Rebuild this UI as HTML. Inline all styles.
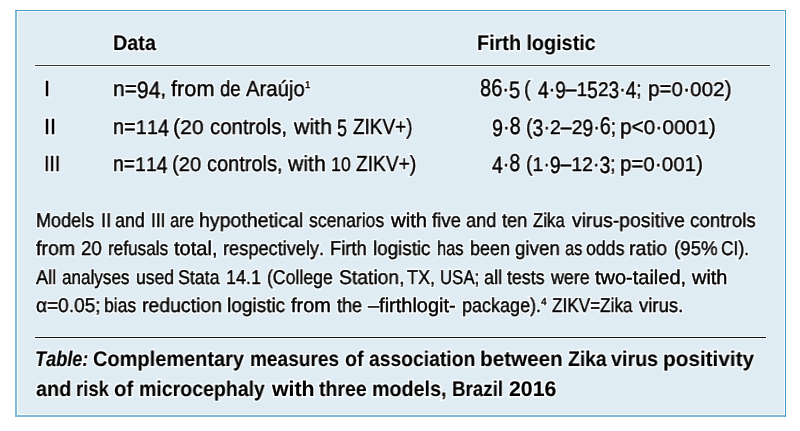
<!DOCTYPE html>
<html><head><meta charset="utf-8"><title>Table</title><style>
html,body{margin:0;padding:0;background:#fff;width:800px;height:431px;overflow:hidden;}
body{position:relative;font-family:"Liberation Sans",sans-serif;color:#000;font-kerning:none;}
.t{position:absolute;white-space:pre;transform-origin:0 0;will-change:transform;text-rendering:geometricPrecision;text-shadow:none;}
.bx{position:absolute;}
.dd,.du,.dz{display:inline-block;}
.dd{transform:translateY(2.3px) scaleY(1.08);transform-origin:50% 18.45px;}
.du{transform:scaleY(1.12);transform-origin:50% 18.45px;}
.dz{transform:scaleY(0.9);transform-origin:50% 18.45px;}
</style></head><body>
<div class="bx" style="left:15px;top:10px;width:771px;height:407px;background:#7fbbd7;"></div>
<div class="bx" style="left:17px;top:10px;width:768px;height:405px;background:#fff;"></div>
<div class="bx" style="left:15px;top:10px;width:771px;height:1px;background:#4a9cc6;"></div>
<div class="bx" style="left:785px;top:10px;width:1px;height:407px;background:#4a9cc6;"></div>
<div class="bx" style="left:18px;top:12px;width:766px;height:402px;background:#dfecf3;"></div>
<div class="bx" style="left:34px;top:64px;width:737px;height:3px;background:#f4fafc;"></div>
<div class="bx" style="left:35px;top:65px;width:735px;height:1px;background:#333;"></div>
<div class="bx" style="left:34px;top:336px;width:733px;height:3px;background:#f4fafc;"></div>
<div class="bx" style="left:35px;top:337px;width:731px;height:1px;background:#111;"></div>
<div class="t" style="color:transparent;-webkit-text-stroke:3.2px rgba(255,255,255,0.85);left:112.98px;top:33.05px;font-size:21.2px;line-height:21.2px;font-weight:bold;font-style:normal;transform:scaleX(0.9333);">Data</div>
<div class="t" style="color:transparent;-webkit-text-stroke:3.2px rgba(255,255,255,0.85);left:476.93px;top:33.05px;font-size:21.2px;line-height:21.2px;font-weight:bold;font-style:normal;transform:scaleX(0.9338);">Firth logistic</div>
<div class="t" style="color:transparent;-webkit-text-stroke:3.2px rgba(255,255,255,0.85);left:43.95px;top:77.55px;font-size:21.8px;line-height:21.8px;font-weight:normal;font-style:normal;transform:scaleX(1.0000);">I</div>
<div class="t" style="color:transparent;-webkit-text-stroke:3.2px rgba(255,255,255,0.85);left:43.62px;top:115.55px;font-size:21.8px;line-height:21.8px;font-weight:normal;font-style:normal;transform:scaleX(1.0000);">II</div>
<div class="t" style="color:transparent;-webkit-text-stroke:3.2px rgba(255,255,255,0.85);left:44.40px;top:152.55px;font-size:21.8px;line-height:21.8px;font-weight:normal;font-style:normal;transform:scaleX(0.9000);">III</div>
<div class="t" style="color:transparent;-webkit-text-stroke:3.2px rgba(255,255,255,0.85);left:112.51px;top:77.55px;font-size:21.8px;line-height:21.8px;font-weight:normal;font-style:normal;transform:scaleX(0.9662);">n=<span class="dd">9</span><span class="dd">4</span>,</div>
<div class="t" style="color:transparent;-webkit-text-stroke:3.2px rgba(255,255,255,0.85);left:171.22px;top:77.55px;font-size:21.8px;line-height:21.8px;font-weight:normal;font-style:normal;transform:scaleX(0.9968);">from</div>
<div class="t" style="color:transparent;-webkit-text-stroke:3.2px rgba(255,255,255,0.85);left:219.97px;top:77.55px;font-size:21.8px;line-height:21.8px;font-weight:normal;font-style:normal;transform:scaleX(0.8519);">de</div>
<div class="t" style="color:transparent;-webkit-text-stroke:3.2px rgba(255,255,255,0.85);left:245.73px;top:77.55px;font-size:21.8px;line-height:21.8px;font-weight:normal;font-style:normal;transform:scaleX(0.9311);">Araújo</div>
<div class="t" style="color:transparent;-webkit-text-stroke:3.2px rgba(255,255,255,0.85);left:112.56px;top:115.55px;font-size:21.8px;line-height:21.8px;font-weight:normal;font-style:normal;transform:scaleX(0.9160);">n=<span class="dz">1</span><span class="dz">1</span><span class="dd">4</span></div>
<div class="t" style="color:transparent;-webkit-text-stroke:3.2px rgba(255,255,255,0.85);left:173.25px;top:115.55px;font-size:21.8px;line-height:21.8px;font-weight:normal;font-style:normal;transform:scaleX(0.9726);">(<span class="dz">2</span><span class="dz">0</span></div>
<div class="t" style="color:transparent;-webkit-text-stroke:3.2px rgba(255,255,255,0.85);left:210.48px;top:115.55px;font-size:21.8px;line-height:21.8px;font-weight:normal;font-style:normal;transform:scaleX(0.9352);">controls,</div>
<div class="t" style="color:transparent;-webkit-text-stroke:3.2px rgba(255,255,255,0.85);left:294.20px;top:115.55px;font-size:21.8px;line-height:21.8px;font-weight:normal;font-style:normal;transform:scaleX(0.9783);">with</div>
<div class="t" style="color:transparent;-webkit-text-stroke:3.2px rgba(255,255,255,0.85);left:337.16px;top:115.55px;font-size:21.8px;line-height:21.8px;font-weight:normal;font-style:normal;transform:scaleX(0.8269);"><span class="dd">5</span></div>
<div class="t" style="color:transparent;-webkit-text-stroke:3.2px rgba(255,255,255,0.85);left:353.23px;top:115.55px;font-size:21.8px;line-height:21.8px;font-weight:normal;font-style:normal;transform:scaleX(0.8686);">ZIKV+)</div>
<div class="t" style="color:transparent;-webkit-text-stroke:3.2px rgba(255,255,255,0.85);left:112.58px;top:152.55px;font-size:21.8px;line-height:21.8px;font-weight:normal;font-style:normal;transform:scaleX(0.8911);">n=<span class="dz">1</span><span class="dz">1</span><span class="dd">4</span></div>
<div class="t" style="color:transparent;-webkit-text-stroke:3.2px rgba(255,255,255,0.85);left:171.80px;top:152.55px;font-size:21.8px;line-height:21.8px;font-weight:normal;font-style:normal;transform:scaleX(0.9233);">(<span class="dz">2</span><span class="dz">0</span></div>
<div class="t" style="color:transparent;-webkit-text-stroke:3.2px rgba(255,255,255,0.85);left:207.48px;top:152.55px;font-size:21.8px;line-height:21.8px;font-weight:normal;font-style:normal;transform:scaleX(0.9167);">controls,</div>
<div class="t" style="color:transparent;-webkit-text-stroke:3.2px rgba(255,255,255,0.85);left:287.90px;top:152.55px;font-size:21.8px;line-height:21.8px;font-weight:normal;font-style:normal;transform:scaleX(0.9718);">with</div>
<div class="t" style="color:transparent;-webkit-text-stroke:3.2px rgba(255,255,255,0.85);left:330.52px;top:152.55px;font-size:21.8px;line-height:21.8px;font-weight:normal;font-style:normal;transform:scaleX(0.8107);"><span class="dz">1</span><span class="dz">0</span></div>
<div class="t" style="color:transparent;-webkit-text-stroke:3.2px rgba(255,255,255,0.85);left:356.12px;top:152.55px;font-size:21.8px;line-height:21.8px;font-weight:normal;font-style:normal;transform:scaleX(0.8790);">ZIKV+)</div>
<div class="t" style="color:transparent;-webkit-text-stroke:3.2px rgba(255,255,255,0.85);left:480.33px;top:77.55px;font-size:21.8px;line-height:21.8px;font-weight:normal;font-style:normal;transform:scaleX(0.9206);"><span class="du">8</span><span class="du">6</span>·<span class="dd">5</span></div>
<div class="t" style="color:transparent;-webkit-text-stroke:3.2px rgba(255,255,255,0.85);left:523.64px;top:77.55px;font-size:21.8px;line-height:21.8px;font-weight:normal;font-style:normal;transform:scaleX(0.9014);">(</div>
<div class="t" style="color:transparent;-webkit-text-stroke:3.2px rgba(255,255,255,0.85);left:537.62px;top:77.55px;font-size:21.8px;line-height:21.8px;font-weight:normal;font-style:normal;transform:scaleX(0.8811);"><span class="dd">4</span>·<span class="dd">9</span>–<span class="dz">1</span><span class="dd">5</span><span class="dz">2</span><span class="dd">3</span>·<span class="dd">4</span>;</div>
<div class="t" style="color:transparent;-webkit-text-stroke:3.2px rgba(255,255,255,0.85);left:648.18px;top:77.55px;font-size:21.8px;line-height:21.8px;font-weight:normal;font-style:normal;transform:scaleX(0.9492);">p=<span class="dz">0</span>·<span class="dz">0</span><span class="dz">0</span><span class="dz">2</span>)</div>
<div class="t" style="color:transparent;-webkit-text-stroke:3.2px rgba(255,255,255,0.85);left:491.72px;top:115.55px;font-size:21.8px;line-height:21.8px;font-weight:normal;font-style:normal;transform:scaleX(0.9068);"><span class="dd">9</span>·<span class="du">8</span></div>
<div class="t" style="color:transparent;-webkit-text-stroke:3.2px rgba(255,255,255,0.85);left:525.63px;top:115.55px;font-size:21.8px;line-height:21.8px;font-weight:normal;font-style:normal;transform:scaleX(0.8958);">(<span class="dd">3</span>·<span class="dz">2</span>–<span class="dz">2</span><span class="dd">9</span>·<span class="du">6</span>;</div>
<div class="t" style="color:transparent;-webkit-text-stroke:3.2px rgba(255,255,255,0.85);left:620.27px;top:115.55px;font-size:21.8px;line-height:21.8px;font-weight:normal;font-style:normal;transform:scaleX(0.9573);">p&lt;<span class="dz">0</span>·<span class="dz">0</span><span class="dz">0</span><span class="dz">0</span><span class="dz">1</span>)</div>
<div class="t" style="color:transparent;-webkit-text-stroke:3.2px rgba(255,255,255,0.85);left:492.23px;top:152.55px;font-size:21.8px;line-height:21.8px;font-weight:normal;font-style:normal;transform:scaleX(0.8907);"><span class="dd">4</span>·<span class="du">8</span></div>
<div class="t" style="color:transparent;-webkit-text-stroke:3.2px rgba(255,255,255,0.85);left:525.63px;top:152.55px;font-size:21.8px;line-height:21.8px;font-weight:normal;font-style:normal;transform:scaleX(0.8908);">(<span class="dz">1</span>·<span class="dd">9</span>–<span class="dz">1</span><span class="dz">2</span>·<span class="dd">3</span>;</div>
<div class="t" style="color:transparent;-webkit-text-stroke:3.2px rgba(255,255,255,0.85);left:619.53px;top:152.55px;font-size:21.8px;line-height:21.8px;font-weight:normal;font-style:normal;transform:scaleX(0.9428);">p=<span class="dz">0</span>·<span class="dz">0</span><span class="dz">0</span><span class="dz">1</span>)</div>
<div class="t" style="color:transparent;-webkit-text-stroke:3.2px rgba(255,255,255,0.85);left:36.07px;top:212.15px;font-size:19.9px;line-height:19.9px;font-weight:normal;font-style:normal;transform:scaleX(0.9070);">Models</div>
<div class="t" style="color:transparent;-webkit-text-stroke:3.2px rgba(255,255,255,0.85);left:100.56px;top:212.15px;font-size:19.9px;line-height:19.9px;font-weight:normal;font-style:normal;transform:scaleX(0.9285);">II</div>
<div class="t" style="color:transparent;-webkit-text-stroke:3.2px rgba(255,255,255,0.85);left:115.33px;top:212.15px;font-size:19.9px;line-height:19.9px;font-weight:normal;font-style:normal;transform:scaleX(0.9012);">and</div>
<div class="t" style="color:transparent;-webkit-text-stroke:3.2px rgba(255,255,255,0.85);left:150.60px;top:212.15px;font-size:19.9px;line-height:19.9px;font-weight:normal;font-style:normal;transform:scaleX(0.8753);">III</div>
<div class="t" style="color:transparent;-webkit-text-stroke:3.2px rgba(255,255,255,0.85);left:169.64px;top:212.15px;font-size:19.9px;line-height:19.9px;font-weight:normal;font-style:normal;transform:scaleX(0.8357);">are</div>
<div class="t" style="color:transparent;-webkit-text-stroke:3.2px rgba(255,255,255,0.85);left:199.24px;top:212.15px;font-size:19.9px;line-height:19.9px;font-weight:normal;font-style:normal;transform:scaleX(0.9820);">hypothetical</div>
<div class="t" style="color:transparent;-webkit-text-stroke:3.2px rgba(255,255,255,0.85);left:309.23px;top:212.15px;font-size:19.9px;line-height:19.9px;font-weight:normal;font-style:normal;transform:scaleX(0.8834);">scenarios</div>
<div class="t" style="color:transparent;-webkit-text-stroke:3.2px rgba(255,255,255,0.85);left:390.86px;top:212.15px;font-size:19.9px;line-height:19.9px;font-weight:normal;font-style:normal;transform:scaleX(1.0214);">with</div>
<div class="t" style="color:transparent;-webkit-text-stroke:3.2px rgba(255,255,255,0.85);left:432.48px;top:212.15px;font-size:19.9px;line-height:19.9px;font-weight:normal;font-style:normal;transform:scaleX(0.9323);">five</div>
<div class="t" style="color:transparent;-webkit-text-stroke:3.2px rgba(255,255,255,0.85);left:466.23px;top:212.15px;font-size:19.9px;line-height:19.9px;font-weight:normal;font-style:normal;transform:scaleX(0.9199);">and</div>
<div class="t" style="color:transparent;-webkit-text-stroke:3.2px rgba(255,255,255,0.85);left:502.23px;top:212.15px;font-size:19.9px;line-height:19.9px;font-weight:normal;font-style:normal;transform:scaleX(0.9139);">ten</div>
<div class="t" style="color:transparent;-webkit-text-stroke:3.2px rgba(255,255,255,0.85);left:532.98px;top:212.15px;font-size:19.9px;line-height:19.9px;font-weight:normal;font-style:normal;transform:scaleX(0.8451);">Zika</div>
<div class="t" style="color:transparent;-webkit-text-stroke:3.2px rgba(255,255,255,0.85);left:571.98px;top:212.15px;font-size:19.9px;line-height:19.9px;font-weight:normal;font-style:normal;transform:scaleX(0.9724);">virus-positive</div>
<div class="t" style="color:transparent;-webkit-text-stroke:3.2px rgba(255,255,255,0.85);left:690.23px;top:212.15px;font-size:19.9px;line-height:19.9px;font-weight:normal;font-style:normal;transform:scaleX(0.9440);">controls</div>
<div class="t" style="color:transparent;-webkit-text-stroke:3.2px rgba(255,255,255,0.85);left:36.22px;top:240.15px;font-size:19.9px;line-height:19.9px;font-weight:normal;font-style:normal;transform:scaleX(0.9831);">from</div>
<div class="t" style="color:transparent;-webkit-text-stroke:3.2px rgba(255,255,255,0.85);left:81.03px;top:240.15px;font-size:19.9px;line-height:19.9px;font-weight:normal;font-style:normal;transform:scaleX(0.9401);">20</div>
<div class="t" style="color:transparent;-webkit-text-stroke:3.2px rgba(255,255,255,0.85);left:108.11px;top:240.15px;font-size:19.9px;line-height:19.9px;font-weight:normal;font-style:normal;transform:scaleX(0.8632);">refusals</div>
<div class="t" style="color:transparent;-webkit-text-stroke:3.2px rgba(255,255,255,0.85);left:174.49px;top:240.15px;font-size:19.9px;line-height:19.9px;font-weight:normal;font-style:normal;transform:scaleX(1.0102);">total,</div>
<div class="t" style="color:transparent;-webkit-text-stroke:3.2px rgba(255,255,255,0.85);left:223.31px;top:240.15px;font-size:19.9px;line-height:19.9px;font-weight:normal;font-style:normal;transform:scaleX(0.9147);">respectively.</div>
<div class="t" style="color:transparent;-webkit-text-stroke:3.2px rgba(255,255,255,0.85);left:330.05px;top:240.15px;font-size:19.9px;line-height:19.9px;font-weight:normal;font-style:normal;transform:scaleX(0.9226);">Firth</div>
<div class="t" style="color:transparent;-webkit-text-stroke:3.2px rgba(255,255,255,0.85);left:373.28px;top:240.15px;font-size:19.9px;line-height:19.9px;font-weight:normal;font-style:normal;transform:scaleX(0.9448);">logistic</div>
<div class="t" style="color:transparent;-webkit-text-stroke:3.2px rgba(255,255,255,0.85);left:437.15px;top:240.15px;font-size:19.9px;line-height:19.9px;font-weight:normal;font-style:normal;transform:scaleX(0.8289);">has</div>
<div class="t" style="color:transparent;-webkit-text-stroke:3.2px rgba(255,255,255,0.85);left:470.02px;top:240.15px;font-size:19.9px;line-height:19.9px;font-weight:normal;font-style:normal;transform:scaleX(0.9031);">been</div>
<div class="t" style="color:transparent;-webkit-text-stroke:3.2px rgba(255,255,255,0.85);left:515.48px;top:240.15px;font-size:19.9px;line-height:19.9px;font-weight:normal;font-style:normal;transform:scaleX(0.9422);">given</div>
<div class="t" style="color:transparent;-webkit-text-stroke:3.2px rgba(255,255,255,0.85);left:564.67px;top:240.15px;font-size:19.9px;line-height:19.9px;font-weight:normal;font-style:normal;transform:scaleX(0.8265);">as</div>
<div class="t" style="color:transparent;-webkit-text-stroke:3.2px rgba(255,255,255,0.85);left:586.23px;top:240.15px;font-size:19.9px;line-height:19.9px;font-weight:normal;font-style:normal;transform:scaleX(0.8926);">odds</div>
<div class="t" style="color:transparent;-webkit-text-stroke:3.2px rgba(255,255,255,0.85);left:629.49px;top:240.15px;font-size:19.9px;line-height:19.9px;font-weight:normal;font-style:normal;transform:scaleX(0.9846);">ratio</div>
<div class="t" style="color:transparent;-webkit-text-stroke:3.2px rgba(255,255,255,0.85);left:673.69px;top:240.15px;font-size:19.9px;line-height:19.9px;font-weight:normal;font-style:normal;transform:scaleX(0.9397);">(95%</div>
<div class="t" style="color:transparent;-webkit-text-stroke:3.2px rgba(255,255,255,0.85);left:721.25px;top:240.15px;font-size:19.9px;line-height:19.9px;font-weight:normal;font-style:normal;transform:scaleX(0.8725);">CI).</div>
<div class="t" style="color:transparent;-webkit-text-stroke:3.2px rgba(255,255,255,0.85);left:36.23px;top:269.15px;font-size:19.9px;line-height:19.9px;font-weight:normal;font-style:normal;transform:scaleX(0.9130);">All</div>
<div class="t" style="color:transparent;-webkit-text-stroke:3.2px rgba(255,255,255,0.85);left:61.72px;top:269.15px;font-size:19.9px;line-height:19.9px;font-weight:normal;font-style:normal;transform:scaleX(0.8599);">analyses</div>
<div class="t" style="color:transparent;-webkit-text-stroke:3.2px rgba(255,255,255,0.85);left:135.59px;top:269.15px;font-size:19.9px;line-height:19.9px;font-weight:normal;font-style:normal;transform:scaleX(0.8839);">used</div>
<div class="t" style="color:transparent;-webkit-text-stroke:3.2px rgba(255,255,255,0.85);left:178.47px;top:269.15px;font-size:19.9px;line-height:19.9px;font-weight:normal;font-style:normal;transform:scaleX(0.8928);">Stata</div>
<div class="t" style="color:transparent;-webkit-text-stroke:3.2px rgba(255,255,255,0.85);left:226.07px;top:269.15px;font-size:19.9px;line-height:19.9px;font-weight:normal;font-style:normal;transform:scaleX(0.9044);">14.1</div>
<div class="t" style="color:transparent;-webkit-text-stroke:3.2px rgba(255,255,255,0.85);left:266.59px;top:269.15px;font-size:19.9px;line-height:19.9px;font-weight:normal;font-style:normal;transform:scaleX(0.8875);">(College</div>
<div class="t" style="color:transparent;-webkit-text-stroke:3.2px rgba(255,255,255,0.85);left:339.23px;top:269.15px;font-size:19.9px;line-height:19.9px;font-weight:normal;font-style:normal;transform:scaleX(0.9716);">Station,</div>
<div class="t" style="color:transparent;-webkit-text-stroke:3.2px rgba(255,255,255,0.85);left:407.48px;top:269.15px;font-size:19.9px;line-height:19.9px;font-weight:normal;font-style:normal;transform:scaleX(0.9025);">TX,</div>
<div class="t" style="color:transparent;-webkit-text-stroke:3.2px rgba(255,255,255,0.85);left:440.38px;top:269.15px;font-size:19.9px;line-height:19.9px;font-weight:normal;font-style:normal;transform:scaleX(0.8440);">USA;</div>
<div class="t" style="color:transparent;-webkit-text-stroke:3.2px rgba(255,255,255,0.85);left:483.98px;top:269.15px;font-size:19.9px;line-height:19.9px;font-weight:normal;font-style:normal;transform:scaleX(0.9137);">all</div>
<div class="t" style="color:transparent;-webkit-text-stroke:3.2px rgba(255,255,255,0.85);left:507.13px;top:269.15px;font-size:19.9px;line-height:19.9px;font-weight:normal;font-style:normal;transform:scaleX(0.8951);">tests</div>
<div class="t" style="color:transparent;-webkit-text-stroke:3.2px rgba(255,255,255,0.85);left:551.12px;top:269.15px;font-size:19.9px;line-height:19.9px;font-weight:normal;font-style:normal;transform:scaleX(0.8978);">were</div>
<div class="t" style="color:transparent;-webkit-text-stroke:3.2px rgba(255,255,255,0.85);left:595.48px;top:269.15px;font-size:19.9px;line-height:19.9px;font-weight:normal;font-style:normal;transform:scaleX(1.0047);">two-tailed,</div>
<div class="t" style="color:transparent;-webkit-text-stroke:3.2px rgba(255,255,255,0.85);left:691.73px;top:269.15px;font-size:19.9px;line-height:19.9px;font-weight:normal;font-style:normal;transform:scaleX(1.0011);">with</div>
<div class="t" style="color:transparent;-webkit-text-stroke:3.2px rgba(255,255,255,0.85);left:35.92px;top:297.15px;font-size:19.9px;line-height:19.9px;font-weight:normal;font-style:normal;transform:scaleX(0.9593);">α=0.05;</div>
<div class="t" style="color:transparent;-webkit-text-stroke:3.2px rgba(255,255,255,0.85);left:104.34px;top:297.15px;font-size:19.9px;line-height:19.9px;font-weight:normal;font-style:normal;transform:scaleX(0.8806);">bias</div>
<div class="t" style="color:transparent;-webkit-text-stroke:3.2px rgba(255,255,255,0.85);left:141.55px;top:297.15px;font-size:19.9px;line-height:19.9px;font-weight:normal;font-style:normal;transform:scaleX(0.9779);">reduction</div>
<div class="t" style="color:transparent;-webkit-text-stroke:3.2px rgba(255,255,255,0.85);left:226.77px;top:297.15px;font-size:19.9px;line-height:19.9px;font-weight:normal;font-style:normal;transform:scaleX(0.9573);">logistic</div>
<div class="t" style="color:transparent;-webkit-text-stroke:3.2px rgba(255,255,255,0.85);left:291.48px;top:297.15px;font-size:19.9px;line-height:19.9px;font-weight:normal;font-style:normal;transform:scaleX(1.0022);">from</div>
<div class="t" style="color:transparent;-webkit-text-stroke:3.2px rgba(255,255,255,0.85);left:336.98px;top:297.15px;font-size:19.9px;line-height:19.9px;font-weight:normal;font-style:normal;transform:scaleX(0.9080);">the</div>
<div class="t" style="color:transparent;-webkit-text-stroke:3.2px rgba(255,255,255,0.85);left:367.73px;top:297.15px;font-size:19.9px;line-height:19.9px;font-weight:normal;font-style:normal;transform:scaleX(1.0039);">–firthlogit-</div>
<div class="t" style="color:transparent;-webkit-text-stroke:3.2px rgba(255,255,255,0.85);left:461.52px;top:297.15px;font-size:19.9px;line-height:19.9px;font-weight:normal;font-style:normal;transform:scaleX(0.9048);">package).</div>
<div class="t" style="color:transparent;-webkit-text-stroke:3.2px rgba(255,255,255,0.85);left:551.98px;top:297.15px;font-size:19.9px;line-height:19.9px;font-weight:normal;font-style:normal;transform:scaleX(0.8618);">ZIKV=Zika</div>
<div class="t" style="color:transparent;-webkit-text-stroke:3.2px rgba(255,255,255,0.85);left:638.97px;top:297.15px;font-size:19.9px;line-height:19.9px;font-weight:normal;font-style:normal;transform:scaleX(0.9327);">virus.</div>
<div class="t" style="color:transparent;-webkit-text-stroke:3.2px rgba(255,255,255,0.85);left:35.20px;top:349.05px;font-size:21.2px;line-height:21.2px;font-weight:bold;font-style:italic;transform:scaleX(0.8557);">Table:</div>
<div class="t" style="color:transparent;-webkit-text-stroke:3.2px rgba(255,255,255,0.85);left:93.16px;top:349.05px;font-size:21.2px;line-height:21.2px;font-weight:bold;font-style:normal;transform:scaleX(0.9435);">Complementary</div>
<div class="t" style="color:transparent;-webkit-text-stroke:3.2px rgba(255,255,255,0.85);left:250.41px;top:349.05px;font-size:21.2px;line-height:21.2px;font-weight:bold;font-style:normal;transform:scaleX(0.8993);">measures</div>
<div class="t" style="color:transparent;-webkit-text-stroke:3.2px rgba(255,255,255,0.85);left:344.81px;top:349.05px;font-size:21.2px;line-height:21.2px;font-weight:bold;font-style:normal;transform:scaleX(0.9254);">of</div>
<div class="t" style="color:transparent;-webkit-text-stroke:3.2px rgba(255,255,255,0.85);left:368.81px;top:349.05px;font-size:21.2px;line-height:21.2px;font-weight:bold;font-style:normal;transform:scaleX(0.9114);">association</div>
<div class="t" style="color:transparent;-webkit-text-stroke:3.2px rgba(255,255,255,0.85);left:480.08px;top:349.05px;font-size:21.2px;line-height:21.2px;font-weight:bold;font-style:normal;transform:scaleX(0.9765);">between</div>
<div class="t" style="color:transparent;-webkit-text-stroke:3.2px rgba(255,255,255,0.85);left:568.06px;top:349.05px;font-size:21.2px;line-height:21.2px;font-weight:bold;font-style:normal;transform:scaleX(0.9124);">Zika</div>
<div class="t" style="color:transparent;-webkit-text-stroke:3.2px rgba(255,255,255,0.85);left:611.06px;top:349.05px;font-size:21.2px;line-height:21.2px;font-weight:bold;font-style:normal;transform:scaleX(0.9303);">virus</div>
<div class="t" style="color:transparent;-webkit-text-stroke:3.2px rgba(255,255,255,0.85);left:662.58px;top:349.05px;font-size:21.2px;line-height:21.2px;font-weight:bold;font-style:normal;transform:scaleX(0.9789);">positivity</div>
<div class="t" style="color:transparent;-webkit-text-stroke:3.2px rgba(255,255,255,0.85);left:36.06px;top:379.05px;font-size:21.2px;line-height:21.2px;font-weight:bold;font-style:normal;transform:scaleX(0.9361);">and</div>
<div class="t" style="color:transparent;-webkit-text-stroke:3.2px rgba(255,255,255,0.85);left:75.69px;top:379.05px;font-size:21.2px;line-height:21.2px;font-weight:bold;font-style:normal;transform:scaleX(0.8704);">risk</div>
<div class="t" style="color:transparent;-webkit-text-stroke:3.2px rgba(255,255,255,0.85);left:114.06px;top:379.05px;font-size:21.2px;line-height:21.2px;font-weight:bold;font-style:normal;transform:scaleX(0.9612);">of</div>
<div class="t" style="color:transparent;-webkit-text-stroke:3.2px rgba(255,255,255,0.85);left:138.64px;top:379.05px;font-size:21.2px;line-height:21.2px;font-weight:bold;font-style:normal;transform:scaleX(0.9213);">microcephaly</div>
<div class="t" style="color:transparent;-webkit-text-stroke:3.2px rgba(255,255,255,0.85);left:271.81px;top:379.05px;font-size:21.2px;line-height:21.2px;font-weight:bold;font-style:normal;transform:scaleX(1.0049);">with</div>
<div class="t" style="color:transparent;-webkit-text-stroke:3.2px rgba(255,255,255,0.85);left:318.81px;top:379.05px;font-size:21.2px;line-height:21.2px;font-weight:bold;font-style:normal;transform:scaleX(0.9203);">three</div>
<div class="t" style="color:transparent;-webkit-text-stroke:3.2px rgba(255,255,255,0.85);left:371.88px;top:379.05px;font-size:21.2px;line-height:21.2px;font-weight:bold;font-style:normal;transform:scaleX(0.9290);">models,</div>
<div class="t" style="color:transparent;-webkit-text-stroke:3.2px rgba(255,255,255,0.85);left:452.43px;top:379.05px;font-size:21.2px;line-height:21.2px;font-weight:bold;font-style:normal;transform:scaleX(0.8848);">Brazil</div>
<div class="t" style="color:transparent;-webkit-text-stroke:3.2px rgba(255,255,255,0.85);left:508.81px;top:379.05px;font-size:21.2px;line-height:21.2px;font-weight:bold;font-style:normal;transform:scaleX(1.0059);">2016</div>
<div class="t" style="color:transparent;-webkit-text-stroke:3.2px rgba(255,255,255,0.85);left:304.93px;top:80.86px;font-size:9.86px;line-height:9.86px;transform:scaleX(0.9686);">1</div>
<div class="t" style="color:transparent;-webkit-text-stroke:3.2px rgba(255,255,255,0.85);left:540.70px;top:298.49px;font-size:10.29px;line-height:10.29px;transform:scaleX(0.9913);">4</div>
<div class="t" style="left:112.98px;top:33.05px;font-size:21.2px;line-height:21.2px;font-weight:bold;font-style:normal;transform:scaleX(0.9333);-webkit-text-stroke:0.12px #000;">Data</div>
<div class="t" style="left:476.93px;top:33.05px;font-size:21.2px;line-height:21.2px;font-weight:bold;font-style:normal;transform:scaleX(0.9338);-webkit-text-stroke:0.12px #000;">Firth logistic</div>
<div class="t" style="left:43.95px;top:77.55px;font-size:21.8px;line-height:21.8px;font-weight:normal;font-style:normal;transform:scaleX(1.0000);-webkit-text-stroke:0.45px #000;">I</div>
<div class="t" style="left:43.62px;top:115.55px;font-size:21.8px;line-height:21.8px;font-weight:normal;font-style:normal;transform:scaleX(1.0000);-webkit-text-stroke:0.45px #000;">II</div>
<div class="t" style="left:44.40px;top:152.55px;font-size:21.8px;line-height:21.8px;font-weight:normal;font-style:normal;transform:scaleX(0.9000);-webkit-text-stroke:0.45px #000;">III</div>
<div class="t" style="left:112.51px;top:77.55px;font-size:21.8px;line-height:21.8px;font-weight:normal;font-style:normal;transform:scaleX(0.9662);-webkit-text-stroke:0.45px #000;">n=<span class="dd">9</span><span class="dd">4</span>,</div>
<div class="t" style="left:171.22px;top:77.55px;font-size:21.8px;line-height:21.8px;font-weight:normal;font-style:normal;transform:scaleX(0.9968);-webkit-text-stroke:0.45px #000;">from</div>
<div class="t" style="left:219.97px;top:77.55px;font-size:21.8px;line-height:21.8px;font-weight:normal;font-style:normal;transform:scaleX(0.8519);-webkit-text-stroke:0.45px #000;">de</div>
<div class="t" style="left:245.73px;top:77.55px;font-size:21.8px;line-height:21.8px;font-weight:normal;font-style:normal;transform:scaleX(0.9311);-webkit-text-stroke:0.45px #000;">Araújo</div>
<div class="t" style="left:112.56px;top:115.55px;font-size:21.8px;line-height:21.8px;font-weight:normal;font-style:normal;transform:scaleX(0.9160);-webkit-text-stroke:0.45px #000;">n=<span class="dz">1</span><span class="dz">1</span><span class="dd">4</span></div>
<div class="t" style="left:173.25px;top:115.55px;font-size:21.8px;line-height:21.8px;font-weight:normal;font-style:normal;transform:scaleX(0.9726);-webkit-text-stroke:0.45px #000;">(<span class="dz">2</span><span class="dz">0</span></div>
<div class="t" style="left:210.48px;top:115.55px;font-size:21.8px;line-height:21.8px;font-weight:normal;font-style:normal;transform:scaleX(0.9352);-webkit-text-stroke:0.45px #000;">controls,</div>
<div class="t" style="left:294.20px;top:115.55px;font-size:21.8px;line-height:21.8px;font-weight:normal;font-style:normal;transform:scaleX(0.9783);-webkit-text-stroke:0.45px #000;">with</div>
<div class="t" style="left:337.16px;top:115.55px;font-size:21.8px;line-height:21.8px;font-weight:normal;font-style:normal;transform:scaleX(0.8269);-webkit-text-stroke:0.45px #000;"><span class="dd">5</span></div>
<div class="t" style="left:353.23px;top:115.55px;font-size:21.8px;line-height:21.8px;font-weight:normal;font-style:normal;transform:scaleX(0.8686);-webkit-text-stroke:0.45px #000;">ZIKV+)</div>
<div class="t" style="left:112.58px;top:152.55px;font-size:21.8px;line-height:21.8px;font-weight:normal;font-style:normal;transform:scaleX(0.8911);-webkit-text-stroke:0.45px #000;">n=<span class="dz">1</span><span class="dz">1</span><span class="dd">4</span></div>
<div class="t" style="left:171.80px;top:152.55px;font-size:21.8px;line-height:21.8px;font-weight:normal;font-style:normal;transform:scaleX(0.9233);-webkit-text-stroke:0.45px #000;">(<span class="dz">2</span><span class="dz">0</span></div>
<div class="t" style="left:207.48px;top:152.55px;font-size:21.8px;line-height:21.8px;font-weight:normal;font-style:normal;transform:scaleX(0.9167);-webkit-text-stroke:0.45px #000;">controls,</div>
<div class="t" style="left:287.90px;top:152.55px;font-size:21.8px;line-height:21.8px;font-weight:normal;font-style:normal;transform:scaleX(0.9718);-webkit-text-stroke:0.45px #000;">with</div>
<div class="t" style="left:330.52px;top:152.55px;font-size:21.8px;line-height:21.8px;font-weight:normal;font-style:normal;transform:scaleX(0.8107);-webkit-text-stroke:0.45px #000;"><span class="dz">1</span><span class="dz">0</span></div>
<div class="t" style="left:356.12px;top:152.55px;font-size:21.8px;line-height:21.8px;font-weight:normal;font-style:normal;transform:scaleX(0.8790);-webkit-text-stroke:0.45px #000;">ZIKV+)</div>
<div class="t" style="left:480.33px;top:77.55px;font-size:21.8px;line-height:21.8px;font-weight:normal;font-style:normal;transform:scaleX(0.9206);-webkit-text-stroke:0.45px #000;"><span class="du">8</span><span class="du">6</span>·<span class="dd">5</span></div>
<div class="t" style="left:523.64px;top:77.55px;font-size:21.8px;line-height:21.8px;font-weight:normal;font-style:normal;transform:scaleX(0.9014);-webkit-text-stroke:0.45px #000;">(</div>
<div class="t" style="left:537.62px;top:77.55px;font-size:21.8px;line-height:21.8px;font-weight:normal;font-style:normal;transform:scaleX(0.8811);-webkit-text-stroke:0.45px #000;"><span class="dd">4</span>·<span class="dd">9</span>–<span class="dz">1</span><span class="dd">5</span><span class="dz">2</span><span class="dd">3</span>·<span class="dd">4</span>;</div>
<div class="t" style="left:648.18px;top:77.55px;font-size:21.8px;line-height:21.8px;font-weight:normal;font-style:normal;transform:scaleX(0.9492);-webkit-text-stroke:0.45px #000;">p=<span class="dz">0</span>·<span class="dz">0</span><span class="dz">0</span><span class="dz">2</span>)</div>
<div class="t" style="left:491.72px;top:115.55px;font-size:21.8px;line-height:21.8px;font-weight:normal;font-style:normal;transform:scaleX(0.9068);-webkit-text-stroke:0.45px #000;"><span class="dd">9</span>·<span class="du">8</span></div>
<div class="t" style="left:525.63px;top:115.55px;font-size:21.8px;line-height:21.8px;font-weight:normal;font-style:normal;transform:scaleX(0.8958);-webkit-text-stroke:0.45px #000;">(<span class="dd">3</span>·<span class="dz">2</span>–<span class="dz">2</span><span class="dd">9</span>·<span class="du">6</span>;</div>
<div class="t" style="left:620.27px;top:115.55px;font-size:21.8px;line-height:21.8px;font-weight:normal;font-style:normal;transform:scaleX(0.9573);-webkit-text-stroke:0.45px #000;">p&lt;<span class="dz">0</span>·<span class="dz">0</span><span class="dz">0</span><span class="dz">0</span><span class="dz">1</span>)</div>
<div class="t" style="left:492.23px;top:152.55px;font-size:21.8px;line-height:21.8px;font-weight:normal;font-style:normal;transform:scaleX(0.8907);-webkit-text-stroke:0.45px #000;"><span class="dd">4</span>·<span class="du">8</span></div>
<div class="t" style="left:525.63px;top:152.55px;font-size:21.8px;line-height:21.8px;font-weight:normal;font-style:normal;transform:scaleX(0.8908);-webkit-text-stroke:0.45px #000;">(<span class="dz">1</span>·<span class="dd">9</span>–<span class="dz">1</span><span class="dz">2</span>·<span class="dd">3</span>;</div>
<div class="t" style="left:619.53px;top:152.55px;font-size:21.8px;line-height:21.8px;font-weight:normal;font-style:normal;transform:scaleX(0.9428);-webkit-text-stroke:0.45px #000;">p=<span class="dz">0</span>·<span class="dz">0</span><span class="dz">0</span><span class="dz">1</span>)</div>
<div class="t" style="left:36.07px;top:212.15px;font-size:19.9px;line-height:19.9px;font-weight:normal;font-style:normal;transform:scaleX(0.9070);-webkit-text-stroke:0.45px #000;">Models</div>
<div class="t" style="left:100.56px;top:212.15px;font-size:19.9px;line-height:19.9px;font-weight:normal;font-style:normal;transform:scaleX(0.9285);-webkit-text-stroke:0.45px #000;">II</div>
<div class="t" style="left:115.33px;top:212.15px;font-size:19.9px;line-height:19.9px;font-weight:normal;font-style:normal;transform:scaleX(0.9012);-webkit-text-stroke:0.45px #000;">and</div>
<div class="t" style="left:150.60px;top:212.15px;font-size:19.9px;line-height:19.9px;font-weight:normal;font-style:normal;transform:scaleX(0.8753);-webkit-text-stroke:0.45px #000;">III</div>
<div class="t" style="left:169.64px;top:212.15px;font-size:19.9px;line-height:19.9px;font-weight:normal;font-style:normal;transform:scaleX(0.8357);-webkit-text-stroke:0.45px #000;">are</div>
<div class="t" style="left:199.24px;top:212.15px;font-size:19.9px;line-height:19.9px;font-weight:normal;font-style:normal;transform:scaleX(0.9820);-webkit-text-stroke:0.45px #000;">hypothetical</div>
<div class="t" style="left:309.23px;top:212.15px;font-size:19.9px;line-height:19.9px;font-weight:normal;font-style:normal;transform:scaleX(0.8834);-webkit-text-stroke:0.45px #000;">scenarios</div>
<div class="t" style="left:390.86px;top:212.15px;font-size:19.9px;line-height:19.9px;font-weight:normal;font-style:normal;transform:scaleX(1.0214);-webkit-text-stroke:0.45px #000;">with</div>
<div class="t" style="left:432.48px;top:212.15px;font-size:19.9px;line-height:19.9px;font-weight:normal;font-style:normal;transform:scaleX(0.9323);-webkit-text-stroke:0.45px #000;">five</div>
<div class="t" style="left:466.23px;top:212.15px;font-size:19.9px;line-height:19.9px;font-weight:normal;font-style:normal;transform:scaleX(0.9199);-webkit-text-stroke:0.45px #000;">and</div>
<div class="t" style="left:502.23px;top:212.15px;font-size:19.9px;line-height:19.9px;font-weight:normal;font-style:normal;transform:scaleX(0.9139);-webkit-text-stroke:0.45px #000;">ten</div>
<div class="t" style="left:532.98px;top:212.15px;font-size:19.9px;line-height:19.9px;font-weight:normal;font-style:normal;transform:scaleX(0.8451);-webkit-text-stroke:0.45px #000;">Zika</div>
<div class="t" style="left:571.98px;top:212.15px;font-size:19.9px;line-height:19.9px;font-weight:normal;font-style:normal;transform:scaleX(0.9724);-webkit-text-stroke:0.45px #000;">virus-positive</div>
<div class="t" style="left:690.23px;top:212.15px;font-size:19.9px;line-height:19.9px;font-weight:normal;font-style:normal;transform:scaleX(0.9440);-webkit-text-stroke:0.45px #000;">controls</div>
<div class="t" style="left:36.22px;top:240.15px;font-size:19.9px;line-height:19.9px;font-weight:normal;font-style:normal;transform:scaleX(0.9831);-webkit-text-stroke:0.45px #000;">from</div>
<div class="t" style="left:81.03px;top:240.15px;font-size:19.9px;line-height:19.9px;font-weight:normal;font-style:normal;transform:scaleX(0.9401);-webkit-text-stroke:0.45px #000;">20</div>
<div class="t" style="left:108.11px;top:240.15px;font-size:19.9px;line-height:19.9px;font-weight:normal;font-style:normal;transform:scaleX(0.8632);-webkit-text-stroke:0.45px #000;">refusals</div>
<div class="t" style="left:174.49px;top:240.15px;font-size:19.9px;line-height:19.9px;font-weight:normal;font-style:normal;transform:scaleX(1.0102);-webkit-text-stroke:0.45px #000;">total,</div>
<div class="t" style="left:223.31px;top:240.15px;font-size:19.9px;line-height:19.9px;font-weight:normal;font-style:normal;transform:scaleX(0.9147);-webkit-text-stroke:0.45px #000;">respectively.</div>
<div class="t" style="left:330.05px;top:240.15px;font-size:19.9px;line-height:19.9px;font-weight:normal;font-style:normal;transform:scaleX(0.9226);-webkit-text-stroke:0.45px #000;">Firth</div>
<div class="t" style="left:373.28px;top:240.15px;font-size:19.9px;line-height:19.9px;font-weight:normal;font-style:normal;transform:scaleX(0.9448);-webkit-text-stroke:0.45px #000;">logistic</div>
<div class="t" style="left:437.15px;top:240.15px;font-size:19.9px;line-height:19.9px;font-weight:normal;font-style:normal;transform:scaleX(0.8289);-webkit-text-stroke:0.45px #000;">has</div>
<div class="t" style="left:470.02px;top:240.15px;font-size:19.9px;line-height:19.9px;font-weight:normal;font-style:normal;transform:scaleX(0.9031);-webkit-text-stroke:0.45px #000;">been</div>
<div class="t" style="left:515.48px;top:240.15px;font-size:19.9px;line-height:19.9px;font-weight:normal;font-style:normal;transform:scaleX(0.9422);-webkit-text-stroke:0.45px #000;">given</div>
<div class="t" style="left:564.67px;top:240.15px;font-size:19.9px;line-height:19.9px;font-weight:normal;font-style:normal;transform:scaleX(0.8265);-webkit-text-stroke:0.45px #000;">as</div>
<div class="t" style="left:586.23px;top:240.15px;font-size:19.9px;line-height:19.9px;font-weight:normal;font-style:normal;transform:scaleX(0.8926);-webkit-text-stroke:0.45px #000;">odds</div>
<div class="t" style="left:629.49px;top:240.15px;font-size:19.9px;line-height:19.9px;font-weight:normal;font-style:normal;transform:scaleX(0.9846);-webkit-text-stroke:0.45px #000;">ratio</div>
<div class="t" style="left:673.69px;top:240.15px;font-size:19.9px;line-height:19.9px;font-weight:normal;font-style:normal;transform:scaleX(0.9397);-webkit-text-stroke:0.45px #000;">(95%</div>
<div class="t" style="left:721.25px;top:240.15px;font-size:19.9px;line-height:19.9px;font-weight:normal;font-style:normal;transform:scaleX(0.8725);-webkit-text-stroke:0.45px #000;">CI).</div>
<div class="t" style="left:36.23px;top:269.15px;font-size:19.9px;line-height:19.9px;font-weight:normal;font-style:normal;transform:scaleX(0.9130);-webkit-text-stroke:0.45px #000;">All</div>
<div class="t" style="left:61.72px;top:269.15px;font-size:19.9px;line-height:19.9px;font-weight:normal;font-style:normal;transform:scaleX(0.8599);-webkit-text-stroke:0.45px #000;">analyses</div>
<div class="t" style="left:135.59px;top:269.15px;font-size:19.9px;line-height:19.9px;font-weight:normal;font-style:normal;transform:scaleX(0.8839);-webkit-text-stroke:0.45px #000;">used</div>
<div class="t" style="left:178.47px;top:269.15px;font-size:19.9px;line-height:19.9px;font-weight:normal;font-style:normal;transform:scaleX(0.8928);-webkit-text-stroke:0.45px #000;">Stata</div>
<div class="t" style="left:226.07px;top:269.15px;font-size:19.9px;line-height:19.9px;font-weight:normal;font-style:normal;transform:scaleX(0.9044);-webkit-text-stroke:0.45px #000;">14.1</div>
<div class="t" style="left:266.59px;top:269.15px;font-size:19.9px;line-height:19.9px;font-weight:normal;font-style:normal;transform:scaleX(0.8875);-webkit-text-stroke:0.45px #000;">(College</div>
<div class="t" style="left:339.23px;top:269.15px;font-size:19.9px;line-height:19.9px;font-weight:normal;font-style:normal;transform:scaleX(0.9716);-webkit-text-stroke:0.45px #000;">Station,</div>
<div class="t" style="left:407.48px;top:269.15px;font-size:19.9px;line-height:19.9px;font-weight:normal;font-style:normal;transform:scaleX(0.9025);-webkit-text-stroke:0.45px #000;">TX,</div>
<div class="t" style="left:440.38px;top:269.15px;font-size:19.9px;line-height:19.9px;font-weight:normal;font-style:normal;transform:scaleX(0.8440);-webkit-text-stroke:0.45px #000;">USA;</div>
<div class="t" style="left:483.98px;top:269.15px;font-size:19.9px;line-height:19.9px;font-weight:normal;font-style:normal;transform:scaleX(0.9137);-webkit-text-stroke:0.45px #000;">all</div>
<div class="t" style="left:507.13px;top:269.15px;font-size:19.9px;line-height:19.9px;font-weight:normal;font-style:normal;transform:scaleX(0.8951);-webkit-text-stroke:0.45px #000;">tests</div>
<div class="t" style="left:551.12px;top:269.15px;font-size:19.9px;line-height:19.9px;font-weight:normal;font-style:normal;transform:scaleX(0.8978);-webkit-text-stroke:0.45px #000;">were</div>
<div class="t" style="left:595.48px;top:269.15px;font-size:19.9px;line-height:19.9px;font-weight:normal;font-style:normal;transform:scaleX(1.0047);-webkit-text-stroke:0.45px #000;">two-tailed,</div>
<div class="t" style="left:691.73px;top:269.15px;font-size:19.9px;line-height:19.9px;font-weight:normal;font-style:normal;transform:scaleX(1.0011);-webkit-text-stroke:0.45px #000;">with</div>
<div class="t" style="left:35.92px;top:297.15px;font-size:19.9px;line-height:19.9px;font-weight:normal;font-style:normal;transform:scaleX(0.9593);-webkit-text-stroke:0.45px #000;">α=0.05;</div>
<div class="t" style="left:104.34px;top:297.15px;font-size:19.9px;line-height:19.9px;font-weight:normal;font-style:normal;transform:scaleX(0.8806);-webkit-text-stroke:0.45px #000;">bias</div>
<div class="t" style="left:141.55px;top:297.15px;font-size:19.9px;line-height:19.9px;font-weight:normal;font-style:normal;transform:scaleX(0.9779);-webkit-text-stroke:0.45px #000;">reduction</div>
<div class="t" style="left:226.77px;top:297.15px;font-size:19.9px;line-height:19.9px;font-weight:normal;font-style:normal;transform:scaleX(0.9573);-webkit-text-stroke:0.45px #000;">logistic</div>
<div class="t" style="left:291.48px;top:297.15px;font-size:19.9px;line-height:19.9px;font-weight:normal;font-style:normal;transform:scaleX(1.0022);-webkit-text-stroke:0.45px #000;">from</div>
<div class="t" style="left:336.98px;top:297.15px;font-size:19.9px;line-height:19.9px;font-weight:normal;font-style:normal;transform:scaleX(0.9080);-webkit-text-stroke:0.45px #000;">the</div>
<div class="t" style="left:367.73px;top:297.15px;font-size:19.9px;line-height:19.9px;font-weight:normal;font-style:normal;transform:scaleX(1.0039);-webkit-text-stroke:0.45px #000;">–firthlogit-</div>
<div class="t" style="left:461.52px;top:297.15px;font-size:19.9px;line-height:19.9px;font-weight:normal;font-style:normal;transform:scaleX(0.9048);-webkit-text-stroke:0.45px #000;">package).</div>
<div class="t" style="left:551.98px;top:297.15px;font-size:19.9px;line-height:19.9px;font-weight:normal;font-style:normal;transform:scaleX(0.8618);-webkit-text-stroke:0.45px #000;">ZIKV=Zika</div>
<div class="t" style="left:638.97px;top:297.15px;font-size:19.9px;line-height:19.9px;font-weight:normal;font-style:normal;transform:scaleX(0.9327);-webkit-text-stroke:0.45px #000;">virus.</div>
<div class="t" style="left:35.20px;top:349.05px;font-size:21.2px;line-height:21.2px;font-weight:bold;font-style:italic;transform:scaleX(0.8557);-webkit-text-stroke:0.12px #000;">Table:</div>
<div class="t" style="left:93.16px;top:349.05px;font-size:21.2px;line-height:21.2px;font-weight:bold;font-style:normal;transform:scaleX(0.9435);-webkit-text-stroke:0.12px #000;">Complementary</div>
<div class="t" style="left:250.41px;top:349.05px;font-size:21.2px;line-height:21.2px;font-weight:bold;font-style:normal;transform:scaleX(0.8993);-webkit-text-stroke:0.12px #000;">measures</div>
<div class="t" style="left:344.81px;top:349.05px;font-size:21.2px;line-height:21.2px;font-weight:bold;font-style:normal;transform:scaleX(0.9254);-webkit-text-stroke:0.12px #000;">of</div>
<div class="t" style="left:368.81px;top:349.05px;font-size:21.2px;line-height:21.2px;font-weight:bold;font-style:normal;transform:scaleX(0.9114);-webkit-text-stroke:0.12px #000;">association</div>
<div class="t" style="left:480.08px;top:349.05px;font-size:21.2px;line-height:21.2px;font-weight:bold;font-style:normal;transform:scaleX(0.9765);-webkit-text-stroke:0.12px #000;">between</div>
<div class="t" style="left:568.06px;top:349.05px;font-size:21.2px;line-height:21.2px;font-weight:bold;font-style:normal;transform:scaleX(0.9124);-webkit-text-stroke:0.12px #000;">Zika</div>
<div class="t" style="left:611.06px;top:349.05px;font-size:21.2px;line-height:21.2px;font-weight:bold;font-style:normal;transform:scaleX(0.9303);-webkit-text-stroke:0.12px #000;">virus</div>
<div class="t" style="left:662.58px;top:349.05px;font-size:21.2px;line-height:21.2px;font-weight:bold;font-style:normal;transform:scaleX(0.9789);-webkit-text-stroke:0.12px #000;">positivity</div>
<div class="t" style="left:36.06px;top:379.05px;font-size:21.2px;line-height:21.2px;font-weight:bold;font-style:normal;transform:scaleX(0.9361);-webkit-text-stroke:0.12px #000;">and</div>
<div class="t" style="left:75.69px;top:379.05px;font-size:21.2px;line-height:21.2px;font-weight:bold;font-style:normal;transform:scaleX(0.8704);-webkit-text-stroke:0.12px #000;">risk</div>
<div class="t" style="left:114.06px;top:379.05px;font-size:21.2px;line-height:21.2px;font-weight:bold;font-style:normal;transform:scaleX(0.9612);-webkit-text-stroke:0.12px #000;">of</div>
<div class="t" style="left:138.64px;top:379.05px;font-size:21.2px;line-height:21.2px;font-weight:bold;font-style:normal;transform:scaleX(0.9213);-webkit-text-stroke:0.12px #000;">microcephaly</div>
<div class="t" style="left:271.81px;top:379.05px;font-size:21.2px;line-height:21.2px;font-weight:bold;font-style:normal;transform:scaleX(1.0049);-webkit-text-stroke:0.12px #000;">with</div>
<div class="t" style="left:318.81px;top:379.05px;font-size:21.2px;line-height:21.2px;font-weight:bold;font-style:normal;transform:scaleX(0.9203);-webkit-text-stroke:0.12px #000;">three</div>
<div class="t" style="left:371.88px;top:379.05px;font-size:21.2px;line-height:21.2px;font-weight:bold;font-style:normal;transform:scaleX(0.9290);-webkit-text-stroke:0.12px #000;">models,</div>
<div class="t" style="left:452.43px;top:379.05px;font-size:21.2px;line-height:21.2px;font-weight:bold;font-style:normal;transform:scaleX(0.8848);-webkit-text-stroke:0.12px #000;">Brazil</div>
<div class="t" style="left:508.81px;top:379.05px;font-size:21.2px;line-height:21.2px;font-weight:bold;font-style:normal;transform:scaleX(1.0059);-webkit-text-stroke:0.12px #000;">2016</div>
<div class="t" style="left:304.93px;top:80.86px;font-size:9.86px;line-height:9.86px;transform:scaleX(0.9686);-webkit-text-stroke:0.4px #000;">1</div>
<div class="t" style="left:540.70px;top:298.49px;font-size:10.29px;line-height:10.29px;transform:scaleX(0.9913);-webkit-text-stroke:0.4px #000;">4</div>
</body></html>
